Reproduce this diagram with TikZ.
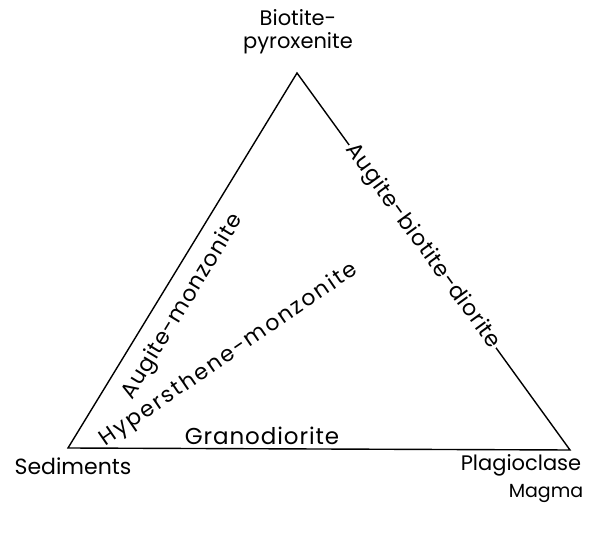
\documentclass[tikz,border=0pt]{standalone}
\usepackage{fontspec}
\setmainfont{Poppins}
\usepackage{tikz}
\usetikzlibrary{positioning}

\newcommand{\rockfont}[2]{\fontsize{#1}{#1}\selectfont\addfontfeature{LetterSpace=#2}}

\begin{document}
\begin{tikzpicture}[
  x=1pt, y=-1pt,
  font=\fontsize{21}{23}\selectfont,
  corner/.style={align=center, inner sep=1pt},
  rock/.style={inner sep=1pt},
  edge/.style={line width=1.4pt, line join=miter}
]
  \useasboundingbox (0,0) rectangle (597,534);

  % corners of the triangle
  \coordinate (bio) at (297,73);
  \coordinate (sed) at (68,448);
  \coordinate (plag) at (570,450);

  \node[corner] (biolab) at (298,32) {Biotite-\\pyroxenite};
  \node[corner, font=\fontsize{22}{24}\selectfont] (sedlab) at (73,466) {Sediments};
  \node[corner] (plaglab) at (521,465) {Plagioclase};
  \node[corner, font=\fontsize{19}{21}\selectfont] (magma) at (546,493) {Magma};

  \draw[edge] (sed) -- (bio) -- (plag) -- cycle;

  \node[rock, rotate=58.6, font=\rockfont{22}{4}] (augmon) at (183,307) {Augite-monzonite};
  \path (bio) -- node[rock, sloped, fill=white, pos=0.46, font=\rockfont{22}{3}] (augbio) {Augite-biotite-diorite} (plag);
  \node[rock, rotate=34.5, font=\rockfont{22}{9}] (hyper) at (229,355) {Hypersthene-monzonite};
  \node[rock, font=\rockfont{23}{4}] (grano) at (262,436) {Granodiorite};
\end{tikzpicture}
\end{document}
